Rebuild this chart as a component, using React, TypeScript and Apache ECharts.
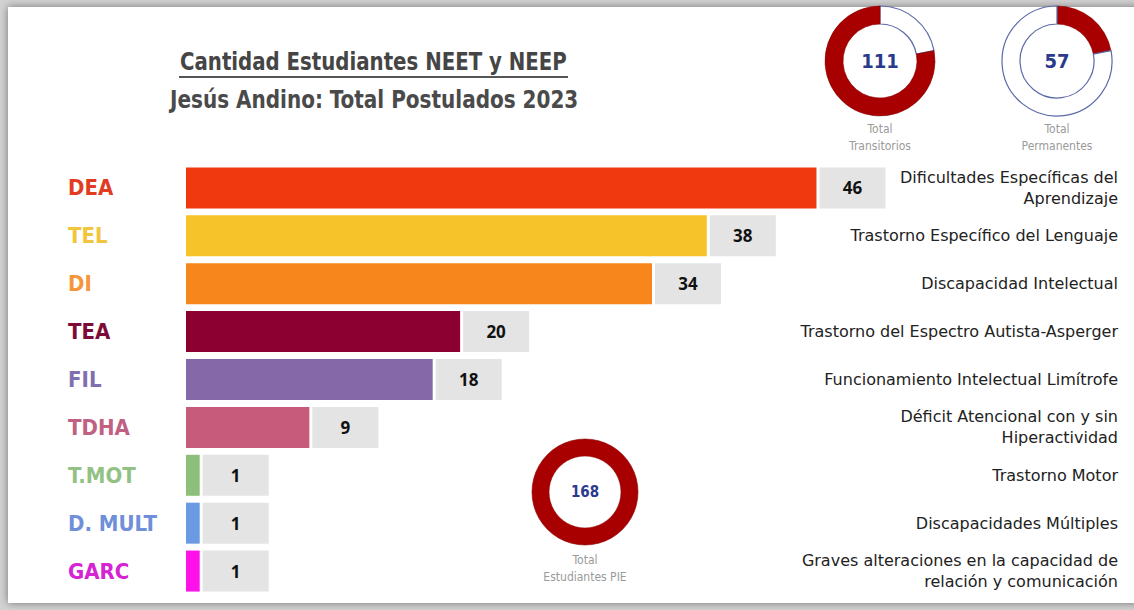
import React, { useEffect, useRef } from "react";
import * as echarts from "echarts";

const categories = ["DEA", "TEL", "DI", "TEA", "FIL", "TDHA", "T.MOT", "D. MULT", "GARC"];
const values = [46, 38, 34, 20, 18, 9, 1, 1, 1];
const descriptions = [
  "Dificultades Específicas del\nAprendizaje",
  "Trastorno Específico del Lenguaje",
  "Discapacidad Intelectual",
  "Trastorno del Espectro Autista-Asperger",
  "Funcionamiento Intelectual Limítrofe",
  "Déficit Atencional con y sin\nHiperactividad",
  "Trastorno Motor",
  "Discapacidades Múltiples",
  "Graves alteraciones en la capacidad de\nrelación y comunicación",
];
const barColors = ["#f0390f", "#f6c42a", "#f7861c", "#8c0031", "#8468a8", "#c65b7b", "#8cc07a", "#6a9be2", "#ff12ea"];
const labelColors = ["#e23b22", "#f1c53c", "#f5963a", "#7c0c37", "#7f6fae", "#c06082", "#92c283", "#6f90d8", "#d424d4"];

const ringTotals = [111, 57, 168];
const ringCaptions = ["Total\nTransitorios", "Total\nPermanentes", "Total\nEstudiantes PIE"];
const ringRedShare = [78, 22, 100];
const ringRestShare = [22, 78, 0];

const titleText = "Cantidad Estudiantes NEET y NEEP";
const subtitleText = "Jesús Andino: Total Postulados 2023";

const NARROW = '"DejaVu Sans Condensed", "Liberation Sans Narrow", sans-serif';
const RED = "#a80000";
const RING_LINE = "#5a68a6";

export default function App() {
  const ref = useRef<HTMLDivElement>(null);
  useEffect(() => {
    if (!ref.current) return;
    const chart = echarts.init(ref.current, undefined, { renderer: "svg" });

    const ringGeom = [
      { cx: 880, cy: 61, r0: 37, r1: 55, fs: 20, capY: 137 },
      { cx: 1057, cy: 61, r0: 37, r1: 55, fs: 20, capY: 137 },
      { cx: 585, cy: 492, r0: 36, r1: 53, fs: 15, capY: 568 },
    ];

    const pieSeries = ringGeom.map((g, i) => {
      const red = { value: ringRedShare[i], itemStyle: { color: RED, borderColor: "#8a0000", borderWidth: 0.6 } };
      const rest = { value: ringRestShare[i], itemStyle: { color: "#ffffff", borderColor: RING_LINE, borderWidth: 1.2 } };
      const data = i === 0 ? [rest, red] : [red, rest];
      return {
        type: "pie",
        center: [g.cx, g.cy],
        radius: [g.r0, g.r1],
        startAngle: 90,
        clockwise: true,
        silent: true,
        label: { show: false },
        labelLine: { show: false },
        emphasis: { disabled: true },
        data: data.filter((d) => d.value > 0),
        z: 3,
      };
    });

    const ringTexts: any[] = [];
    ringGeom.forEach((g, i) => {
      ringTexts.push({
        type: "text",
        x: g.cx,
        y: g.cy,
        z: 100,
        style: {
          text: String(ringTotals[i]),
          fill: "#2b3a8c",
          fontSize: g.fs,
          fontWeight: "bold",
          fontFamily: NARROW,
          align: "center",
          verticalAlign: "middle",
        },
      });
      ringTexts.push({
        type: "text",
        x: g.cx,
        y: g.capY,
        z: 100,
        style: {
          text: ringCaptions[i],
          fill: "#9a9a9a",
          fontSize: 12,
          fontFamily: NARROW,
          lineHeight: 17,
          align: "center",
          verticalAlign: "middle",
        },
      });
    });

    const option: any = {
      animation: false,
      backgroundColor: "#d2d2d2",
      graphic: [
        {
          type: "rect",
          z: -10,
          shape: { x: 8, y: 7, width: 1140, height: 596 },
          style: { fill: "#ffffff", shadowColor: "rgba(0,0,0,0.45)", shadowBlur: 8 },
        },
        {
          type: "text",
          x: 180,
          y: 62,
          z: 100,
          scaleX: 0.915,
          style: {
            text: titleText,
            fill: "#454545",
            fontSize: 24,
            fontWeight: "bold",
            fontFamily: NARROW,
            align: "left",
            verticalAlign: "middle",
          },
        },
        {
          type: "line",
          z: 100,
          shape: { x1: 179, y1: 77, x2: 568, y2: 77 },
          style: { stroke: "#555555", lineWidth: 2 },
        },
        {
          type: "text",
          x: 170,
          y: 100,
          z: 100,
          scaleX: 0.927,
          style: {
            text: subtitleText,
            fill: "#4a4a4a",
            fontSize: 24,
            fontWeight: "bold",
            fontFamily: NARROW,
            align: "left",
            verticalAlign: "middle",
          },
        },
        ...ringTexts,
      ],
      grid: { left: 186, right: 16, top: 164, bottom: 15, containLabel: false, outerBoundsMode: "none" },
      xAxis: {
        type: "value",
        min: 0,
        max: 68,
        show: false,
      },
      yAxis: [
        {
          type: "category",
          inverse: true,
          data: categories,
          axisLine: { show: false },
          axisTick: { show: false },
          axisLabel: {
            align: "right",
            margin: 8,
            formatter: (v: string, i: number) => "{c" + i + "|" + v + "}",
            rich: Object.fromEntries(
              categories.map((_, i) => [
                "c" + i,
                {
                  width: 110,
                  align: "left",
                  color: labelColors[i],
                  fontSize: 22,
                  fontWeight: "bold",
                  fontFamily: NARROW,
                },
              ])
            ),
          },
        },
        {
          type: "category",
          inverse: true,
          position: "right",
          data: descriptions,
          axisLine: { show: false },
          axisTick: { show: false },
          axisLabel: {
            align: "right",
            margin: 0,
            fontSize: 16,
            lineHeight: 21,
            color: "#222222",
            fontFamily: '"DejaVu Sans", sans-serif',
          },
        },
      ],
      series: [
        {
          type: "bar",
          yAxisIndex: 0,
          barWidth: 41,
          silent: true,
          data: values.map((v, i) => ({ value: v, itemStyle: { color: barColors[i] } })),
          label: {
            show: true,
            position: "right",
            distance: 3,
            formatter: (p: any) => "{v|" + p.value + "}",
            rich: {
              v: {
                width: 66,
                height: 41,
                lineHeight: 41,
                align: "center",
                backgroundColor: "#e4e4e4",
                color: "#111111",
                fontSize: 17,
                fontWeight: "bold",
                fontFamily: '"Noto Sans", sans-serif',
              },
            },
          },
          z: 2,
        },
        ...pieSeries,
      ],
    };
    chart.setOption(option);
    return () => chart.dispose();
  }, []);
  return (
    <div
      ref={ref}
      style={{ position: "fixed", left: 0, top: 0, width: 1134, height: 610 }}
    />
  );
}
